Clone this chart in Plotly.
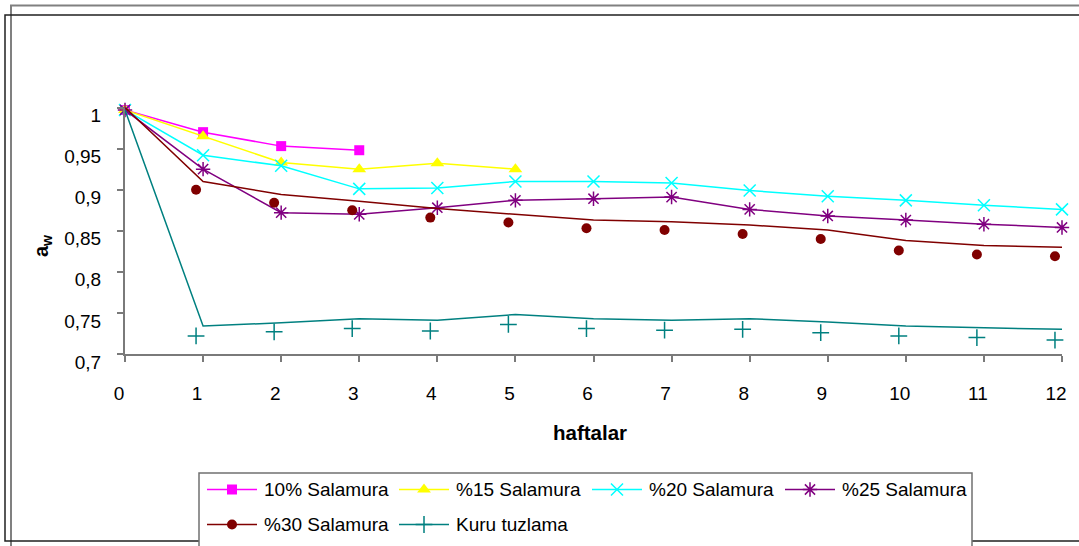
import plotly.graph_objects as go

# ---- data -------------------------------------------------------------
weeks = list(range(13))
week_labels = [str(w) for w in weeks]

aw_ticks = [0.7, 0.75, 0.8, 0.85, 0.9, 0.95, 1.0]
aw_tick_labels = ["0,7", "0,75", "0,8", "0,85", "0,9", "0,95", "1"]

salamura_10 = [0.997, 0.970, 0.953, 0.948]
salamura_15 = [0.997, 0.965, 0.933, 0.925, 0.932, 0.925]
salamura_20 = [0.997, 0.942, 0.929, 0.901, 0.902, 0.910, 0.910, 0.908,
               0.899, 0.892, 0.887, 0.881, 0.876]
salamura_25 = [0.997, 0.925, 0.872, 0.870, 0.878, 0.887, 0.889, 0.891,
               0.876, 0.868, 0.863, 0.858, 0.854]
salamura_30_line = [1.000, 0.910, 0.894, 0.886, 0.877, 0.870, 0.863, 0.861,
                    0.857, 0.851, 0.838, 0.832, 0.830]
salamura_30_pts = [0.982, 0.900, 0.884, 0.875, 0.866, 0.860, 0.853, 0.851,
                   0.846, 0.840, 0.826, 0.821, 0.819]
kuru_line = [0.997, 0.734, 0.738, 0.743, 0.741, 0.748, 0.743, 0.741,
             0.743, 0.739, 0.734, 0.732, 0.730]
kuru_pts = [0.980, 0.722, 0.727, 0.731, 0.728, 0.736, 0.731, 0.729,
            0.730, 0.726, 0.722, 0.720, 0.717]

names = ["10% Salamura", "%15 Salamura", "%20 Salamura", "%25 Salamura",
         "%30 Salamura", "Kuru tuzlama"]

# ---- styling ----------------------------------------------------------
W, H = 1079, 546
FONT = "Liberation Sans, Arial, sans-serif"
FS = 19
colors = ["#FF00FF", "#FFFF00", "#00FFFF", "#800080", "#800000", "#008080"]
symbols = ["square", "triangle-up", "x-thin-open", "asterisk-open",
           "circle", "cross-thin-open"]
sizes = [10, 12, 12, 12, 10, 12]
PT_SHIFT = -0.09  # measured points sit slightly left of the week ticks

# plot area in pixels
PX0, PX1 = 125, 1062
PY_TOP, PY_BOT = 107.5, 354


def fx(px):
    return px / W


def fy(py):
    return 1 - py / H


def marker_style(i):
    m = dict(symbol=symbols[i], size=sizes[i], color=colors[i])
    if symbols[i].endswith("open"):
        m["line"] = dict(color=colors[i], width=1.5)
    return m


fig = go.Figure()

series_lines = [salamura_10, salamura_15, salamura_20, salamura_25]
for i, vals in enumerate(series_lines):
    fig.add_trace(go.Scatter(
        x=weeks[:len(vals)], y=vals, mode="lines+markers", name=names[i],
        line=dict(color=colors[i], width=1.5), marker=marker_style(i),
        cliponaxis=False, showlegend=False))

# Kuru tuzlama and %30: fitted line plus measured points
fig.add_trace(go.Scatter(x=weeks, y=salamura_30_line, mode="lines",
                         line=dict(color=colors[4], width=1.5),
                         showlegend=False))
fig.add_trace(go.Scatter(x=weeks, y=kuru_line, mode="lines",
                         line=dict(color=colors[5], width=1.5),
                         showlegend=False))
fig.add_trace(go.Scatter(x=[w + PT_SHIFT for w in weeks], y=kuru_pts,
                         mode="markers", marker=marker_style(5),
                         cliponaxis=False, showlegend=False))
fig.add_trace(go.Scatter(x=[w + PT_SHIFT for w in weeks], y=salamura_30_pts,
                         mode="markers", marker=marker_style(4),
                         cliponaxis=False, showlegend=False))

# ---- legend drawn on a full-figure pixel axis --------------------------
legend_cols = [207, 399, 592, 785]
legend_rows = [489.5, 524.5]
SAMPLE = 50
annotations = []
for i, name in enumerate(names):
    lx = legend_cols[i % 4]
    ly = legend_rows[i // 4]
    fig.add_trace(go.Scatter(x=[lx, lx + SAMPLE], y=[ly, ly], mode="lines",
                             line=dict(color=colors[i], width=1.5),
                             xaxis="x2", yaxis="y2", showlegend=False,
                             hoverinfo="skip"))
    fig.add_trace(go.Scatter(x=[lx + SAMPLE / 2], y=[ly], mode="markers",
                             marker=marker_style(i), xaxis="x2", yaxis="y2",
                             showlegend=False, hoverinfo="skip"))
    annotations.append(dict(x=fx(lx + SAMPLE + 5), y=fy(ly), xref="paper",
                            yref="paper", text=name, showarrow=False,
                            xanchor="left", yanchor="middle",
                            font=dict(family=FONT, size=FS, color="black")))

annotations.append(dict(x=fx(590), y=fy(432), xref="paper", yref="paper",
                        text="<b>haftalar</b>", showarrow=False,
                        xanchor="center", yanchor="middle",
                        font=dict(family=FONT, size=20.5, color="black")))
annotations.append(dict(x=fx(43), y=fy(246), xref="paper", yref="paper",
                        text="<b>a<sub>w</sub></b>", showarrow=False,
                        textangle=-90, xanchor="center", yanchor="middle",
                        font=dict(family=FONT, size=20, color="black")))

shapes = [
    # outer frames
    dict(type="rect", xref="paper", yref="paper", x0=fx(11), x1=fx(W + 20),
         y0=fy(H + 20), y1=fy(5.5), line=dict(color="#808080", width=2),
         layer="below"),
    dict(type="rect", xref="paper", yref="paper", x0=fx(5), x1=fx(W + 20),
         y0=fy(541), y1=fy(15), line=dict(color="#202020", width=1.5),
         layer="below"),
    # legend box
    dict(type="rect", xref="paper", yref="paper", x0=fx(199), x1=fx(972),
         y0=fy(H + 5), y1=fy(473), line=dict(color="#707070", width=1.5),
         fillcolor="white", layer="below"),
]

axis_common = dict(showgrid=False, zeroline=False, showline=True,
                   linecolor="#7a7a7a", linewidth=2, ticks="outside",
                   tickcolor="#7a7a7a", tickwidth=1.5, ticklen=6,
                   automargin=False,
                   tickfont=dict(family=FONT, size=FS, color="black"))

fig.update_layout(
    template="none",
    width=W, height=H,
    margin=dict(l=0, r=0, t=0, b=0, pad=0, autoexpand=False),
    paper_bgcolor="white", plot_bgcolor="rgba(0,0,0,0)",
    showlegend=False,
    font=dict(family=FONT, size=FS, color="black"),
    xaxis=dict(domain=[fx(PX0), fx(PX1)], range=[0, 12], tickvals=weeks,
               ticktext=week_labels, anchor="y", ticklabelshift=-6,
               ticklabelstandoff=15, **axis_common),
    yaxis=dict(domain=[fy(PY_BOT), fy(PY_TOP)], range=[0.7, 1.0],
               tickvals=aw_ticks, ticktext=aw_tick_labels, anchor="x",
               ticklabelshift=8, ticklabelstandoff=12, **axis_common),
    xaxis2=dict(domain=[0, 1], range=[0, W], visible=False, anchor="y2",
                fixedrange=True, automargin=False),
    yaxis2=dict(domain=[0, 1], range=[H, 0], visible=False, anchor="x2",
                fixedrange=True, automargin=False),
    annotations=annotations,
    shapes=shapes,
)

fig.write_html("out.html")
